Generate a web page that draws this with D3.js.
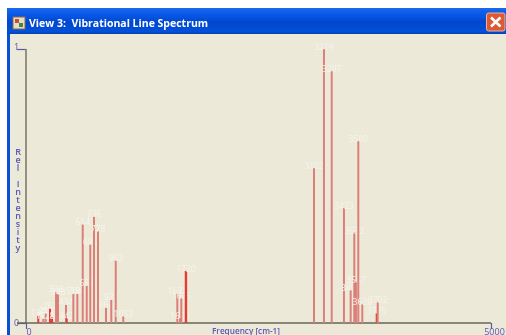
<!DOCTYPE html>
<html><head><meta charset="utf-8">
<script src="https://cdn.jsdelivr.net/npm/d3@7"></script>
<style>
html,body{margin:0;padding:0;background:#fff;overflow:hidden}
svg{display:block;filter:blur(.55px)}
</style></head><body><svg id="c" width="506" height="335"></svg>
<script>
const titleText = "View 3:  Vibrational Line Spectrum";
const xTickValues = [0, 5000];
const yTickValues = [0, 1];
const xAxisLabel = "Frequency [cm-1]";
const yAxisLetters = ["R","e","l","","I","n","t","e","n","s","i","t","y"];
const frequencies = [132,186,212,258,280,323,344,430,438,509,552,610,653,691,731,774,860,917,965,1046,
  1627,1656,1670,1720,3097,3204,3287,3419,3491,3530,3548,3573,3616,3771,3782];
const intensities = [.028,.017,.035,.054,.02,.116,.105,.068,.02,.108,.108,.36,.138,.288,.39,.335,.057,.087,.23,.025,
  .108,.018,.09,.19,.565,1,.92,.42,.12,.33,.15,.665,.07,.035,.075];
const peakLabels = ["136","190","216","262","284","328","348","434","442","514","556","614","658","696","736","778","864","921","962","1053",
  "1631","1660","1675","1720","3102","3219","3297","3423","3495","3532","3557","3580","3620","3775","3792"];
const strongRed = [132,258,280,438,1720,3771];

const svg = d3.select("#c");
const x = d3.scaleLinear().domain([0,5000]).range([26,491]);
const y = d3.scaleLinear().domain([0,1]).range([323,49]);
const purple = "#5a56b4", sans = "'Open Sans','Liberation Sans',sans-serif";

// window frame
svg.append("rect").attr("x",7).attr("y",8).attr("width",499).attr("height",327).attr("fill","#0a4fd8");
svg.append("rect").attr("x",10).attr("y",34).attr("width",496).attr("height",301).attr("fill","#ece9d8");
const grad = svg.append("defs").append("linearGradient").attr("id","tb").attr("x1",0).attr("x2",0).attr("y1",0).attr("y2",1);
[[0,"#1a6ae8"],[.2,"#0a5cea"],[.55,"#0047cf"],[.9,"#0350d8"],[1,"#0a3fb0"]].forEach(s=>grad.append("stop").attr("offset",s[0]).attr("stop-color",s[1]));
svg.append("rect").attr("x",7).attr("y",8).attr("width",499).attr("height",26).attr("fill","url(#tb)");
// window icon
svg.append("rect").attr("x",13).attr("y",17).attr("width",12).attr("height",12).attr("fill","#e8dcc0").attr("stroke","#8a6a50");
svg.append("rect").attr("x",15).attr("y",19).attr("width",4).attr("height",4).attr("fill","#c0503a");
svg.append("rect").attr("x",19).attr("y",23).attr("width",4).attr("height",4).attr("fill","#3a8a50");
svg.append("text").attr("x",29).attr("y",27).text(titleText).attr("fill","#fff")
  .attr("xml:space","preserve").style("white-space","pre")
  .attr("font-family",sans).attr("font-weight",700).attr("font-size",10.5);
// close button
svg.append("rect").attr("x",486.5).attr("y",13).attr("width",18.5).attr("height",18).attr("rx",2).attr("fill","#dc5a34").attr("stroke","#eeb49c");
svg.append("path").attr("d","M491 17.5L500.5 26.5M500.5 17.5L491 26.5").attr("stroke","#fff").attr("stroke-width",2.6);

// axes
const ax = d3.axisBottom(x).tickValues(xTickValues).tickSize(6).tickFormat(d3.format("d"));
const gx = svg.append("g").attr("transform","translate(0,323)").call(ax);
const ay = d3.axisLeft(y).tickValues(yTickValues).tickSize(9).tickFormat(d3.format("d"));
const gy = svg.append("g").attr("transform","translate(26,0)").call(ay);
[gx,gy].forEach(g=>{
  g.select(".domain").remove();
  g.selectAll(".tick line").attr("stroke",purple).attr("stroke-width",1.2);
  g.selectAll("text").attr("fill",purple).attr("font-family",sans).attr("font-size",9);
});
gx.selectAll("text").attr("y",6).attr("dy","0.71em");
gx.selectAll(".tick").filter(d=>d===0).select("text").attr("x",2.5);
gx.selectAll(".tick").filter(d=>d===5000).select("text").attr("x",3);
gy.selectAll("text").attr("x",-9.5).attr("text-anchor","middle").attr("dy",d=>d===1?"0.1em":"0.32em");
svg.append("line").attr("x1",26).attr("x2",26).attr("y1",49).attr("y2",323).attr("stroke","#85836f").attr("stroke-width",1.7);
svg.append("line").attr("x1",17).attr("x2",491).attr("y1",323).attr("y2",323).attr("stroke","#66665a").attr("stroke-width",1.7);

// spectrum lines
const peaks = svg.append("g").selectAll("g").data(frequencies).join("g");
peaks.append("line").attr("x1",d=>x(d)).attr("x2",d=>x(d)).attr("y1",y(0))
  .attr("y2",(d,i)=>y(intensities[i]))
  .attr("stroke",d=>strongRed.includes(d)?"#e83a34":"#dc7f78")
  .attr("stroke-width",d=>d===1720?2.4:2);
peaks.append("text").attr("x",d=>x(d)).attr("y",(d,i)=>y(intensities[i])+1)
  .attr("text-anchor","middle").text((d,i)=>peakLabels[i])
  .attr("fill","#f6f4ec").attr("font-family",sans).attr("font-size",8.5);

// axis titles
svg.append("text").attr("x",246).attr("y",334).attr("text-anchor","middle").text(xAxisLabel)
  .attr("fill",purple).attr("font-family",sans).attr("font-size",8.2).attr("font-weight",600);
const step = d3.scalePoint().domain(d3.range(yAxisLetters.length)).range([155,251]);
svg.append("g").selectAll("text").data(yAxisLetters).join("text")
  .attr("x",18).attr("y",(d,i)=>step(i)).attr("text-anchor","middle").text(d=>d)
  .attr("fill",purple).attr("font-family",sans).attr("font-size",9).attr("font-weight",600);
</script></body></html>
